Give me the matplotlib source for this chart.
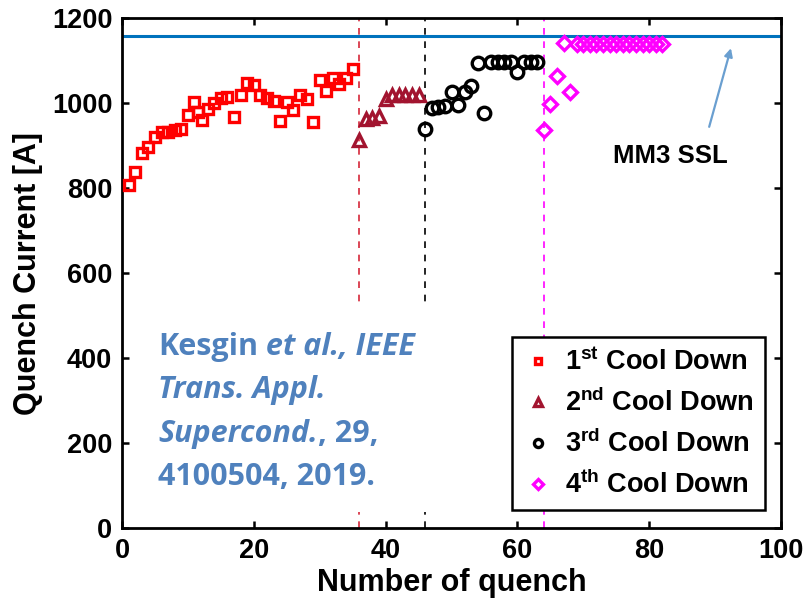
import matplotlib
matplotlib.use("Agg")
import matplotlib.pyplot as plt
from matplotlib.patches import Rectangle
from matplotlib.offsetbox import TextArea, HPacker, VPacker, AnchoredOffsetbox

plt.rcParams['font.family'] = ['Liberation Sans', 'DejaVu Sans']
plt.rcParams['font.weight'] = 'bold'
plt.rcParams['mathtext.fontset'] = 'custom'
plt.rcParams['mathtext.rm'] = 'Liberation Sans:bold'
plt.rcParams['mathtext.bf'] = 'Liberation Sans:bold'

# Quench history, one array pair per cool down
cd1_n = [1, 2, 3, 4, 5, 6, 7, 8, 9, 10, 11, 11.6, 12.2, 13, 14, 15, 16, 17, 18, 19,
         20, 21, 22, 23, 24, 25, 26, 27, 28, 29, 30, 31, 32, 33, 34, 35]
cd1_i = [807, 838, 882, 897, 921, 932, 932, 936, 939, 972, 1003, 980, 960, 986, 999,
         1011, 1013, 967, 1019, 1046, 1042, 1019, 1011, 1005, 958, 1003, 984, 1019,
         1010, 956, 1054, 1028, 1060, 1045, 1058, 1080]

cd2_n = [36, 37, 38, 39, 40, 41, 42, 43, 44, 45]
cd2_i = [913, 962, 965, 970, 1010, 1018, 1018, 1018, 1018, 1018]

cd3_n = [46, 47, 48, 49, 50, 51, 52, 53, 54, 55, 56, 57, 58, 59, 60, 61, 62, 63]
cd3_i = [940, 988, 991, 994, 1027, 995, 1025, 1039, 1094, 976, 1097, 1097, 1097,
         1097, 1074, 1097, 1097, 1097]

cd4_n = [64, 65, 66, 67, 68, 69, 70, 71, 72, 73, 74, 75, 76, 77, 78, 79, 80, 81, 82]
cd4_i = [936, 998, 1064, 1142, 1027, 1138, 1138, 1138, 1138, 1138, 1138, 1138, 1138,
         1138, 1138, 1138, 1138, 1138, 1138]

cooldown_starts = [36, 46, 64]
ssl_current = 1158

labels = [r'1$^{\mathbf{st}}$ Cool Down', r'2$^{\mathbf{nd}}$ Cool Down',
          r'3$^{\mathbf{rd}}$ Cool Down', r'4$^{\mathbf{th}}$ Cool Down']

fig = plt.figure(figsize=(8.09, 6.11), dpi=100)
ax = fig.add_axes([0.1508, 0.1358, 0.8146, 0.8347])

ax.axhline(ssl_current, color='#0072BD', lw=2.2, zorder=1)
for xs, col in zip(cooldown_starts, ['#D62839', 'k', '#FF00FF']):
    ax.axvline(xs, color=col, lw=1.2, ls=(0, (4, 4)), zorder=1)

ax.plot(cd1_n, cd1_i, ls='none', marker='s', ms=7.5, mfc='none', mec='#FF0000',
        mew=2.4, label=labels[0], zorder=3)
ax.plot(cd2_n, cd2_i, ls='none', marker='^', ms=8, mfc='none', mec='#A2142F',
        mew=2.4, label=labels[1], zorder=3)
ax.plot(cd3_n, cd3_i, ls='none', marker='o', ms=9, mfc='none', mec='k',
        mew=2.4, label=labels[2], zorder=3)
ax.plot(cd4_n, cd4_i, ls='none', marker='D', ms=7.5, mfc='none', mec='#FF00FF',
        mew=2.4, label=labels[3], zorder=3)

ax.set_xlim(0, 100)
ax.set_ylim(0, 1200)
ax.set_xticks([0, 20, 40, 60, 80, 100])
ax.set_yticks([0, 200, 400, 600, 800, 1000, 1200])
ax.tick_params(direction='in', length=5, width=1.8, labelsize=19.5,
               top=True, right=True, pad=7)
for lab in ax.get_xticklabels() + ax.get_yticklabels():
    lab.set_fontweight('bold')
for sp in ax.spines.values():
    sp.set_linewidth(2.0)

ax.set_xlabel('Number of quench', fontsize=22, fontweight='bold', labelpad=3)
ax.set_ylabel('Quench Current [A]', fontsize=22, fontweight='bold', labelpad=6)

ax.annotate('', xy=(92.4, 1129), xytext=(89.1, 944),
            arrowprops=dict(arrowstyle='-|>', color='#6A9FD0', lw=1.6,
                            mutation_scale=12, shrinkA=0, shrinkB=0))
ax.text(83.2, 876, 'MM3 SSL', fontsize=18.5, fontweight='bold', ha='center',
        va='center', color='k')

leg = ax.legend(loc='upper right', bbox_to_anchor=(0.976, 0.3745),
                fontsize=19.5, frameon=True, fancybox=False,
                edgecolor='k', framealpha=1, markerscale=0.65, handlelength=1.1,
                handletextpad=0.45, borderpad=0.42, labelspacing=0.46,
                borderaxespad=0)
leg.get_frame().set_linewidth(1.8)
leg.set_zorder(6)

# White panel behind the reference note
ax.add_patch(Rectangle((0.027, 0.031), 0.456, 0.406, transform=ax.transAxes,
                       facecolor='white', edgecolor='none', zorder=4))

blue = '#4F81BD'
fs = 22
def piece(s, italic=False):
    return TextArea(s, textprops=dict(color=blue, fontsize=fs, fontweight='bold',
                                      family='Open Sans',
                                      fontstyle='italic' if italic else 'normal'))

rows = [
    [piece('Kesgin'), piece(' et al., IEEE', True)],
    [piece('Trans. Appl.', True)],
    [piece('Supercond.', True), piece(', 29,')],
    [piece('4100504, 2019.')],
]
lines = [HPacker(children=r, align='baseline', pad=0, sep=0) for r in rows]
note = VPacker(children=lines, align='left', pad=0, sep=9.5)
box = AnchoredOffsetbox(loc='upper left', child=note, pad=0, borderpad=0,
                        bbox_to_anchor=(0.0546, 0.384), bbox_transform=ax.transAxes,
                        frameon=False)
box.set_zorder(5)
ax.add_artist(box)

fig.savefig('out.png', dpi=100)
